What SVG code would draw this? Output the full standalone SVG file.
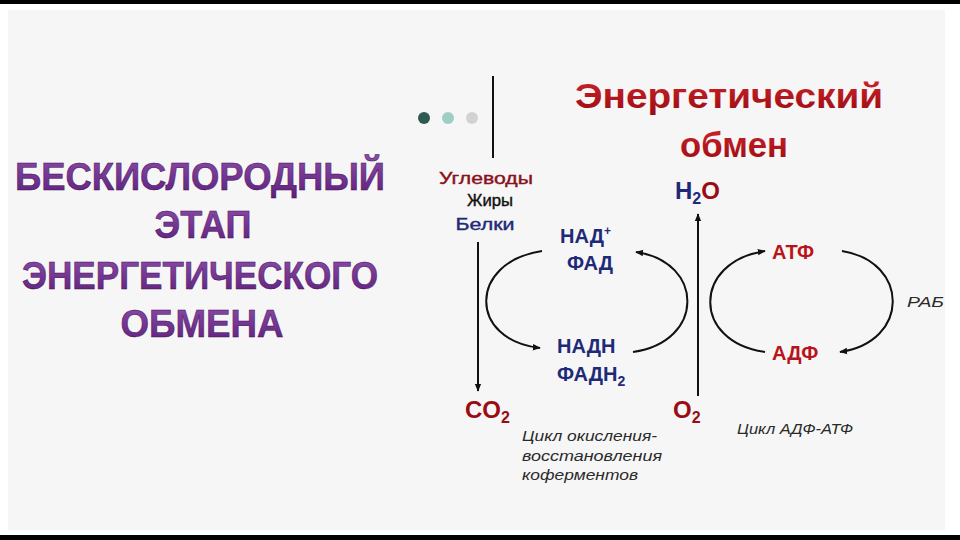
<svg xmlns="http://www.w3.org/2000/svg" width="960" height="540" viewBox="0 0 960 540">
<defs>
<marker id="ah" viewBox="0 0 10 10" refX="9" refY="5" markerWidth="8" markerHeight="8" markerUnits="userSpaceOnUse" orient="auto">
<path d="M0,1 L10,5 L0,9 Z" fill="#111"/>
</marker>
<linearGradient id="purp" x1="0" y1="0" x2="0" y2="1">
<stop offset="0" stop-color="#8c4caa"/>
<stop offset="1" stop-color="#5e1e7c"/>
</linearGradient>
<linearGradient id="red" x1="0" y1="0" x2="0" y2="1">
<stop offset="0" stop-color="#d0242a"/>
<stop offset="1" stop-color="#9a0c12"/>
</linearGradient>
</defs>
<style>
.big{font-family:"Liberation Sans",Arial,sans-serif;font-weight:bold;font-size:38px;fill:url(#purp);stroke:#3a0e4e;stroke-width:0.5;text-anchor:middle}
.ttl{font-family:"Liberation Sans",Arial,sans-serif;font-weight:bold;font-size:35px;fill:url(#red);text-anchor:middle}
.sm{font-family:"Liberation Sans",Arial,sans-serif;font-size:16.5px;stroke-width:0.4;text-anchor:middle}
.co{font-family:"Liberation Sans",Arial,sans-serif;font-weight:bold;font-size:20px;fill:#1e2a78}
.at{font-family:"Liberation Sans",Arial,sans-serif;font-weight:bold;font-size:20px;fill:#b8141c}
.chem{font-family:"Liberation Sans",Arial,sans-serif;font-weight:bold;font-size:24px}
.it{font-family:"Liberation Sans",Arial,sans-serif;font-style:italic;font-size:15px;fill:#2a2a2a}
.ln{fill:none;stroke:#111;stroke-width:2}
</style>
<rect width="960" height="540" fill="#ffffff"/>
<rect x="8" y="10" width="937" height="520" fill="#f6f6f6"/>
<rect x="0" y="0" width="960" height="4" fill="#000"/>
<rect x="0" y="535" width="960" height="5" fill="#000"/>

<g id="title-left">
<text class="big" x="200" y="190" textLength="370" lengthAdjust="spacingAndGlyphs">БЕСКИСЛОРОДНЫЙ</text>
<text class="big" x="203" y="238" textLength="97" lengthAdjust="spacingAndGlyphs">ЭТАП</text>
<text class="big" x="200" y="289" textLength="356" lengthAdjust="spacingAndGlyphs">ЭНЕРГЕТИЧЕСКОГО</text>
<text class="big" x="202" y="337" textLength="163" lengthAdjust="spacingAndGlyphs">ОБМЕНА</text>
</g>

<g id="dots">
<circle cx="424" cy="118" r="6" fill="#2f5a52"/>
<circle cx="448" cy="118" r="6" fill="#9fcdc4"/>
<circle cx="472" cy="118" r="6" fill="#d2d2d2"/>
<line x1="493" y1="76" x2="493" y2="158" stroke="#111" stroke-width="2"/>
</g>

<g id="title-right">
<text class="ttl" x="729" y="108" textLength="308" lengthAdjust="spacingAndGlyphs">Энергетический</text>
<text class="ttl" x="734" y="157" textLength="108" lengthAdjust="spacingAndGlyphs">обмен</text>
</g>

<g id="substrates">
<text class="sm" x="486" y="184" fill="#8a1020" stroke="#8a1020" textLength="94" lengthAdjust="spacingAndGlyphs">Углеводы</text>
<text class="sm" x="490" y="206" fill="#111" stroke="#111" textLength="46" lengthAdjust="spacingAndGlyphs">Жиры</text>
<text class="sm" x="485" y="230" fill="#1e2a78" stroke="#1e2a78" textLength="59" lengthAdjust="spacingAndGlyphs">Белки</text>
</g>

<g id="nad">
<text class="co" x="560" y="243">НАД<tspan font-size="12" dy="-8">+</tspan></text>
<text class="co" x="567" y="270">ФАД</text>
</g>
<g id="nadh">
<text class="co" x="557" y="353">НАДН</text>
<text class="co" x="557" y="381">ФАДН<tspan font-size="14" dy="5">2</tspan></text>
</g>

<g id="atp"><text class="at" x="772" y="259">АТФ</text></g>
<g id="adp"><text class="at" x="772" y="360">АДФ</text></g>

<g id="co2"><text class="chem" x="465" y="418" fill="#9a0c12">CO<tspan font-size="16" dy="5">2</tspan></text></g>
<g id="o2"><text class="chem" x="673" y="418" fill="#9a0c12">O<tspan font-size="16" dy="5">2</tspan></text></g>
<g id="h2o"><text class="chem" x="675" y="199" fill="#1e2a78">H<tspan font-size="16" dy="5">2</tspan><tspan fill="#9a0c12" dy="-5">O</tspan></text></g>

<g id="work"><text class="it" x="907" y="307" font-size="17" fill="#111" textLength="37" lengthAdjust="spacingAndGlyphs">РАБ</text></g>

<g id="labels">
<text class="it" x="522" y="441" textLength="135" lengthAdjust="spacingAndGlyphs">Цикл окисления-</text>
<text class="it" x="522" y="461" textLength="140" lengthAdjust="spacingAndGlyphs">восстановления</text>
<text class="it" x="522" y="480" textLength="116" lengthAdjust="spacingAndGlyphs">коферментов</text>
<text class="it" x="737" y="434" textLength="116" lengthAdjust="spacingAndGlyphs">Цикл АДФ-АТФ</text>
</g>

<g id="connectors">
<line class="ln" x1="478" y1="242" x2="478" y2="391" marker-end="url(#ah)"/>
<line class="ln" x1="698" y1="396" x2="698" y2="214" marker-end="url(#ah)"/>
<path class="ln" d="M542,251 C468,262 468,340 540,348" marker-end="url(#ah)"/>
<path class="ln" d="M633,352 C705,342 705,262 636,252" marker-end="url(#ah)"/>
<path class="ln" d="M765,352 C692,342 692,262 765,251" marker-end="url(#ah)"/>
<path class="ln" d="M842,251 C910,262 910,342 840,352" marker-end="url(#ah)"/>
</g>
</svg>
